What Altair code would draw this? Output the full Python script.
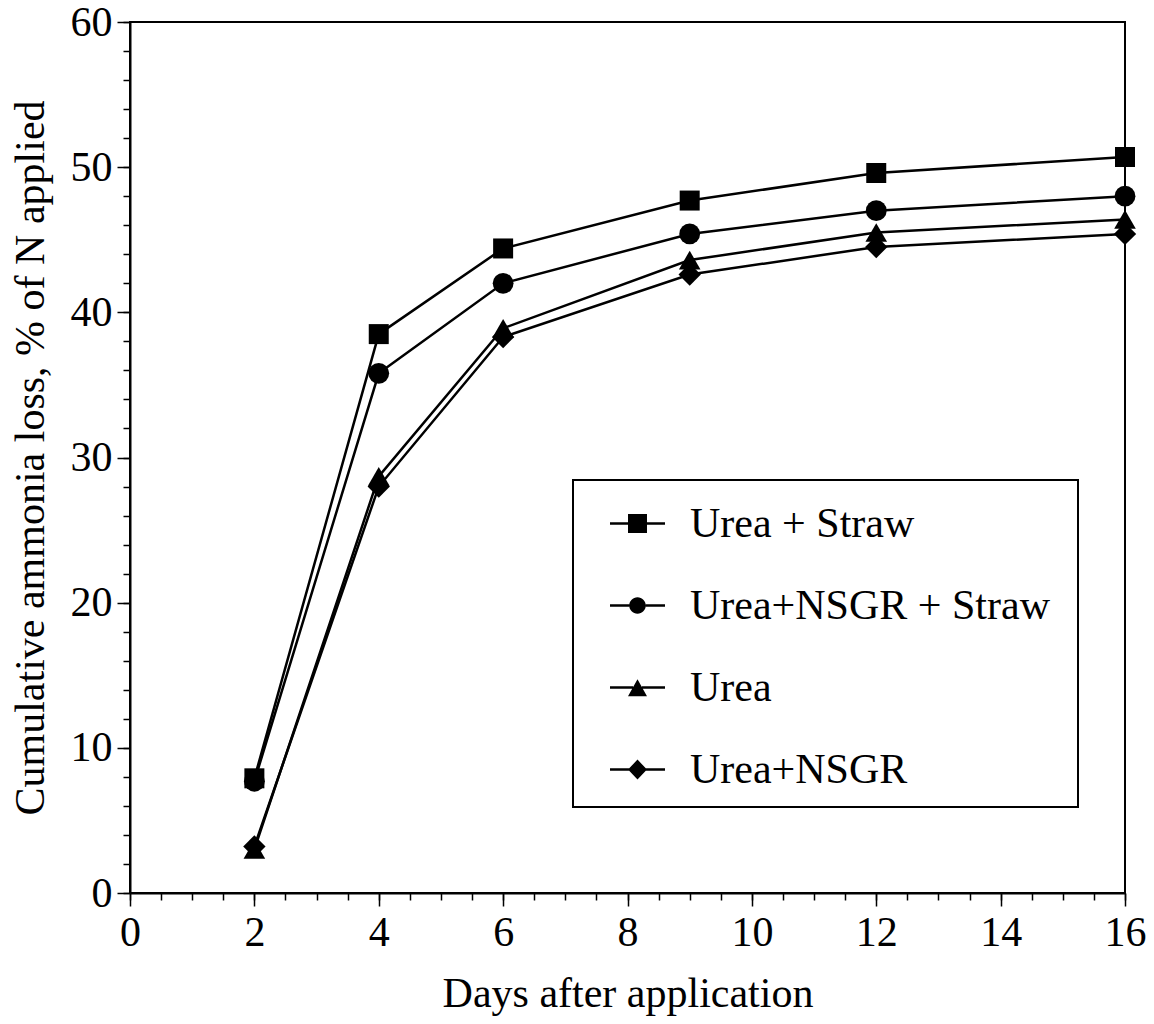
import altair as alt
import pandas as pd

days = [2, 4, 6, 9, 12, 16]
series_names = ["Urea + Straw", "Urea+NSGR + Straw", "Urea", "Urea+NSGR"]
urea_straw = [7.9, 38.5, 44.4, 47.7, 49.6, 50.7]
urea_nsgr_straw = [7.7, 35.8, 42.0, 45.4, 47.0, 48.0]
urea = [3.0, 28.7, 38.9, 43.6, 45.5, 46.4]
urea_nsgr = [3.2, 28.0, 38.3, 42.6, 44.5, 45.4]

x_major = [0, 2, 4, 6, 8, 10, 12, 14, 16]
x_minor = [i * 0.5 for i in range(33)]
y_major = [0, 10, 20, 30, 40, 50, 60]
y_minor = [i * 2 for i in range(31)]

values = {
    "Urea + Straw": urea_straw,
    "Urea+NSGR + Straw": urea_nsgr_straw,
    "Urea": urea,
    "Urea+NSGR": urea_nsgr,
}
draw_order = ["Urea+NSGR", "Urea", "Urea+NSGR + Straw", "Urea + Straw"]
rows = []
for s in draw_order:
    for d, v in zip(days, values[s]):
        rows.append({"day": d, "loss": v, "series": s})
df = pd.DataFrame(rows)

FONT = "Liberation Serif"

# legend symbols: line + marker as custom paths
L = "M-1,-0.047H{a}V0.047H-1Z M{b},-0.047H1V0.047H{b}Z"
leg_square = L.format(a=-0.345, b=0.345) + " M-0.345,-0.345H0.345V0.345H-0.345Z"
leg_circle = L.format(a=-0.3, b=0.3) + " M-0.3,0A0.3,0.3,0,0,1,0.3,0A0.3,0.3,0,0,1,-0.3,0Z"
leg_triangle = L.format(a=-0.16, b=0.16) + " M0,-0.3L0.345,0.32H-0.345Z"
leg_diamond = L.format(a=-0.3, b=0.3) + " M0,-0.36L0.345,0L0,0.36L-0.345,0Z"

x_scale = alt.Scale(domain=[0, 16], nice=False)
y_scale = alt.Scale(domain=[0, 60], nice=False)

x_axis_major = alt.Axis(values=x_major, tickSize=13, labelPadding=6, title="Days after application",
                        titlePadding=20, grid=False, orient="bottom", format="d", labelFlush=False)
x_axis_minor = alt.Axis(values=x_minor, tickSize=7, labels=False, domain=False, title=None,
                        grid=False, orient="bottom")
y_axis_major = alt.Axis(values=y_major, tickSize=13, labelPadding=5,
                        title="Cumulative ammonia loss, % of N applied",
                        titlePadding=18, grid=False, orient="left", format="d", labelFlush=False)
y_axis_minor = alt.Axis(values=y_minor, tickSize=7, labels=False, domain=False, title=None,
                        grid=False, orient="left")

base = alt.Chart(df)

lines = base.mark_line(color="black", strokeWidth=2.5).encode(
    x=alt.X("day:Q", scale=x_scale, axis=x_axis_major),
    y=alt.Y("loss:Q", scale=y_scale, axis=y_axis_major),
    detail="series:N",
    order="day:Q",
)

points = base.mark_point(filled=True, color="black", opacity=1).encode(
    x=alt.X("day:Q", scale=x_scale, axis=x_axis_minor),
    y=alt.Y("loss:Q", scale=y_scale, axis=y_axis_minor),
    shape=alt.Shape("series:N", scale=alt.Scale(domain=series_names,
                    range=["square", "circle", "triangle-up", "diamond"]), legend=None),
    size=alt.Size("series:N", scale=alt.Scale(domain=series_names, range=[400, 500, 440, 500]),
                  legend=None),
)

legend_layer = base.transform_filter("false").mark_point(filled=True, color="black", opacity=1).encode(
    x=alt.X("day:Q", scale=x_scale, axis=None),
    y=alt.Y("loss:Q", scale=y_scale, axis=None),
    shape=alt.Shape("series:N",
                    scale=alt.Scale(domain=series_names,
                                    range=[leg_square, leg_circle, leg_triangle, leg_diamond]),
                    legend=alt.Legend(title=" ", titleOrient="right", titlePadding=12,
                                      titleFont=FONT, titleFontSize=42,
                                      orient="none", legendX=443, legendY=458,
                                      padding=16, symbolSize=3025, symbolOffset=21,
                                      labelOffset=25, rowPadding=33,
                                      symbolFillColor="black", symbolStrokeWidth=0,
                                      labelFont=FONT, labelFontSize=42, labelColor="black",
                                      labelLimit=0,
                                      strokeColor="black", fillColor="white")),
)

chart = alt.layer(lines, points, legend_layer).resolve_scale(
    shape="independent", size="independent"
).resolve_axis(x="independent", y="independent").properties(
    width=995, height=871,
    autosize=alt.AutoSizeParams(type="none"),
    padding={"left": 122, "top": 14, "right": 21, "bottom": 123},
).configure_view(
    stroke="black", strokeWidth=2
).configure_axis(
    domainColor="black", domainWidth=2, tickColor="black", tickWidth=1.5,
    labelFont=FONT, labelFontSize=42, labelColor="black",
    titleFont=FONT, titleFontSize=42, titleColor="black", titleFontWeight="normal",
).configure_legend(
    strokeWidth=2
)

chart.save("out.html", embed_options={"renderer": "svg", "actions": False})
